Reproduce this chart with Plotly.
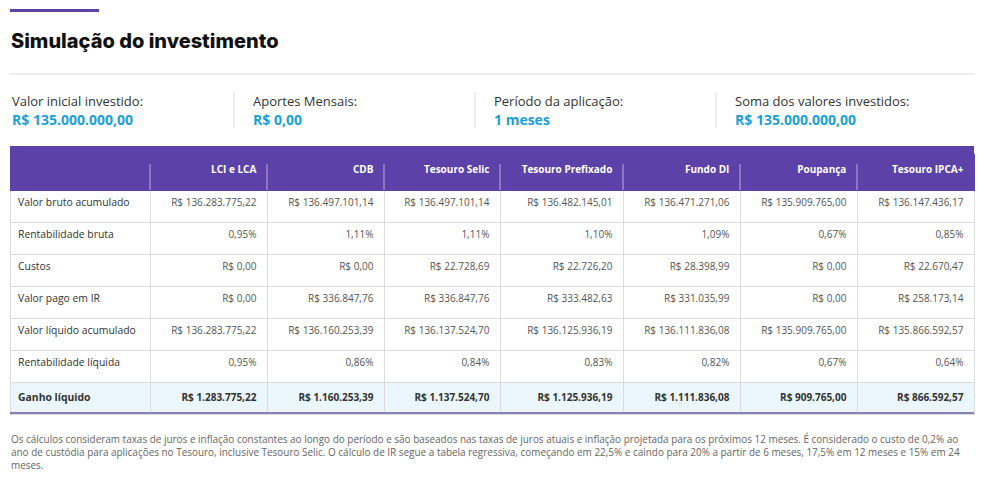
import plotly.graph_objects as go

# summary boxes above the table
resumo_labels = ["Valor inicial investido:", "Aportes Mensais:", "Período da aplicação:", "Soma dos valores investidos:"]
resumo_valores = ["R$ 135.000.000,00", "R$ 0,00", "1 meses", "R$ 135.000.000,00"]

investimentos = ["LCI e LCA", "CDB", "Tesouro Selic", "Tesouro Prefixado", "Fundo DI", "Poupança", "Tesouro IPCA+"]
linhas = ["Valor bruto acumulado", "Rentabilidade bruta", "Custos", "Valor pago em IR",
          "Valor líquido acumulado", "Rentabilidade líquida", "Ganho líquido"]

valor_bruto = ["R$ 136.283.775,22", "R$ 136.497.101,14", "R$ 136.497.101,14", "R$ 136.482.145,01",
               "R$ 136.471.271,06", "R$ 135.909.765,00", "R$ 136.147.436,17"]
rent_bruta = ["0,95%", "1,11%", "1,11%", "1,10%", "1,09%", "0,67%", "0,85%"]
custos = ["R$ 0,00", "R$ 0,00", "R$ 22.728,69", "R$ 22.726,20", "R$ 28.398,99", "R$ 0,00", "R$ 22.670,47"]
valor_ir = ["R$ 0,00", "R$ 336.847,76", "R$ 336.847,76", "R$ 333.482,63", "R$ 331.035,99", "R$ 0,00", "R$ 258.173,14"]
valor_liquido = ["R$ 136.283.775,22", "R$ 136.160.253,39", "R$ 136.137.524,70", "R$ 136.125.936,19",
                 "R$ 136.111.836,08", "R$ 135.909.765,00", "R$ 135.866.592,57"]
rent_liquida = ["0,95%", "0,86%", "0,84%", "0,83%", "0,82%", "0,67%", "0,64%"]
ganho_liquido = ["R$ 1.283.775,22", "R$ 1.160.253,39", "R$ 1.137.524,70", "R$ 1.125.936,19",
                 "R$ 1.111.836,08", "R$ 909.765,00", "R$ 866.592,57"]

nota = ("Os cálculos consideram taxas de juros e inflação constantes ao longo do período e são baseados nas taxas de juros atuais e inflação projetada para os próximos 12 meses. É considerado o custo de 0,2% ao<br>"
        "ano de custódia para aplicações no Tesouro, inclusive Tesouro Selic. O cálculo de IR segue a tabela regressiva, começando em 22,5% e caindo para 20% a partir de 6 meses, 17,5% em 12 meses e 15% em 24<br>"
        "meses.")

PURPLE = "#5c41a8"
BLUE = "#1b9fd8"
# the page body has an 8px margin, so the figure is a bit smaller and coordinates are shifted
OFF = 8
W, H = 984 - OFF, 480 - OFF


def px(x):
    return (x - OFF) / W


def py(y):
    return 1 - (y - OFF) / H


# build the columns for go.Table
NB = "\u00a0"  # small extra right padding
rows = [valor_bruto, rent_bruta, custos, valor_ir, valor_liquido, rent_liquida, ganho_liquido]
cols = [["<b>" + l + "</b>" if i == len(linhas) - 1 else l for i, l in enumerate(linhas)]]
for j in range(len(investimentos)):
    col = [r[j] + NB for r in rows]
    col[-1] = "<b>" + col[-1] + "</b>"
    cols.append(col)

fill = [["white"] * (len(linhas) - 1) + ["#eaf6fc"]] * len(cols)
fcolor = [["#333333"] * len(linhas)] + [["#555555"] * (len(linhas) - 1) + ["#333333"]] * len(investimentos)

# header top strip is a shape, the table itself starts a bit lower so header text sits centred
fig = go.Figure(go.Table(
    domain=dict(x=[px(10), px(974)], y=[py(430), py(154)]),
    columnwidth=[140, 117, 117, 116, 123, 117, 117, 117],
    header=dict(values=[""] + ["<b>" + c + "</b>" + NB for c in investimentos],
                fill_color=PURPLE, line_color=PURPLE, height=36,
                align=["left"] + ["right"] * 7,
                font=dict(family="Open Sans", size=10, color="white")),
    cells=dict(values=cols, fill_color=fill, line_color="#dcdcdc", height=32,
               align=["left"] + ["right"] * 7,
               font=dict(family="Open Sans", size=[10.4] + [10] * 7, color=fcolor)),
))

shapes = [
    dict(type="rect", x0=px(10), x1=px(99), y0=py(12), y1=py(9), fillcolor=PURPLE, line_width=0),
    dict(type="rect", x0=px(10), x1=px(974), y0=py(155), y1=py(146), fillcolor=PURPLE, line_width=0),
    dict(type="line", x0=px(10), x1=px(974), y0=py(74), y1=py(74), line=dict(color="#dddddd", width=1)),
    dict(type="line", x0=px(10), x1=px(974), y0=py(413), y1=py(413), line=dict(color="#8a80b5", width=2)),
]
# dividers of summary boxes
for xd in [234, 475, 716]:
    shapes.append(dict(type="line", x0=px(xd), x1=px(xd), y0=py(128), y1=py(92),
                       line=dict(color="#dddddd", width=1)))
# light dividers inside the header
for xd in [150, 267, 384, 500, 623, 740, 857]:
    shapes.append(dict(type="line", x0=px(xd), x1=px(xd), y0=py(190), y1=py(164),
                       line=dict(color="#b9aee0", width=1)))
for s in shapes:
    s.update(xref="paper", yref="paper")

annotations = [
    dict(text="Simulação do investimento", x=px(9), y=py(41), xanchor="left", yanchor="middle",
         font=dict(family="Inter", size=20, color="#111111", weight=800)),
    dict(text=nota, x=px(9), y=py(452), xanchor="left", yanchor="middle", align="left",
         font=dict(family="Open Sans", size=9.95, color="#666666")),
]
for i, (lab, val) in enumerate(zip(resumo_labels, resumo_valores)):
    x0 = [10, 251, 492, 733][i]
    annotations.append(dict(text=lab, x=px(x0), y=py(101), xanchor="left", yanchor="middle",
                            font=dict(family="Open Sans", size=13, color="#333333")))
    annotations.append(dict(text="<b>" + val + "</b>", x=px(x0), y=py(119), xanchor="left", yanchor="middle",
                            font=dict(family="Open Sans", size=14, color=BLUE)))
for a in annotations:
    a.update(xref="paper", yref="paper", showarrow=False)

fig.update_layout(width=W, height=H, margin=dict(l=0, r=0, t=0, b=0),
                  paper_bgcolor="white", plot_bgcolor="white",
                  shapes=shapes, annotations=annotations)

fig.write_html("out.html")
